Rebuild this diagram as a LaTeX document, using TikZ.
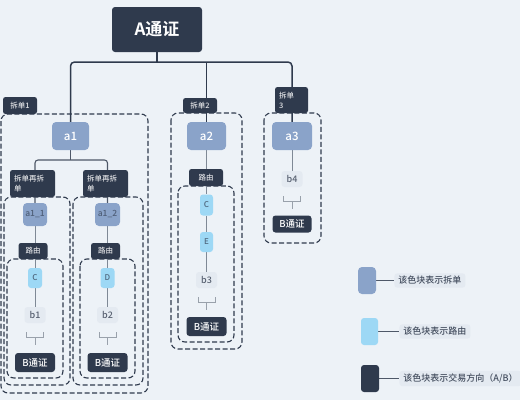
\documentclass[tikz,border=0pt]{standalone}
\usepackage{fontspec}
\newfontfamily\cjkfont{Noto Sans CJK SC}[UprightFont=* Medium, BoldFont=* Bold]
\usepackage{tikz}
\usetikzlibrary{positioning}
\usetikzlibrary{backgrounds}
\definecolor{pagebg}{HTML}{EDF2F7}
\definecolor{tradeink}{HTML}{2F3A4D}
\definecolor{splitblue}{HTML}{8AA3C9}
\definecolor{routeblue}{HTML}{9DD8F5}
\definecolor{tokenbg}{HTML}{E4EAF1}
\definecolor{linkgray}{HTML}{7F8996}
\newcommand{\mergemark}[1]{%
  \draw[bracket] ([shift={(-8.5,17)}]#1.center) -- ++(0,5) -- ++(17,0) -- ++(0,-5);
  \draw[bracket] ([shift={(0,22)}]#1.center) -- ++(0,8);}

\tikzset{
  box/.style={inner sep=0pt, rounded corners=3pt, font=\cjkfont\fontsize{9.5}{11}\selectfont},
  trade/.style={box, fill=tradeink, text=white},
  tag/.style={box, fill=tradeink, text=white!85!tradeink, rounded corners=2.5pt,
    font=\cjkfont\fontsize{7.5}{10}\selectfont},
  split/.style={box, fill=splitblue, text=white, rounded corners=4pt,
    font=\cjkfont\fontsize{11.5}{13}\selectfont},
  subsplit/.style={split, text=splitblue!35!tradeink, font=\cjkfont\fontsize{8.5}{10}\selectfont},
  route/.style={box, fill=routeblue, text=routeblue!30!tradeink, rounded corners=3pt,
    minimum width=13pt, minimum height=21pt, font=\cjkfont\fontsize{8}{10}\selectfont},
  token/.style={box, fill=tokenbg, text=tradeink!80, minimum width=21pt, minimum height=16pt,
    font=\cjkfont\fontsize{9}{11}\selectfont},
  keytext/.style={box, fill=tokenbg, text=tradeink!90, inner xsep=4pt, inner ysep=3pt,
    font=\cjkfont\fontsize{9}{11}\selectfont},
  group/.style={draw=tradeink, line width=1.1pt, dash pattern=on 5pt off 2.5pt, rounded corners=7pt},
  trunk/.style={draw=tradeink, line width=1.5pt},
  stem/.style={draw=tradeink!85, line width=1.1pt},
  link/.style={draw=linkgray, line width=0.8pt},
  bracket/.style={draw=linkgray!80, line width=0.7pt}
}

\begin{document}
\begin{tikzpicture}[x=1pt,y=-1pt]
\useasboundingbox (0,0) rectangle (520,400);
\begin{scope}[on background layer]
  \fill[pagebg] (0,0) rectangle (520,400);
  \draw[group] (1,114) rectangle (148,393);
  \draw[group] (4,197) rectangle (70,385);
  \draw[group] (73,197) rectangle (143,385);
  \draw[group] (7,259) rectangle (63,378);
  \draw[group] (80,259) rectangle (135,378);
  \draw[group] (171,113) rectangle (242,349);
  \draw[group] (178,186) rectangle (234,342);
  \draw[group] (264,113) rectangle (321,243);
\end{scope}

\node[trade, minimum width=90pt, minimum height=45pt,
  font=\cjkfont\bfseries\fontsize{17}{20}\selectfont] (a-root) at (157,29.5) {A通证};

\node[tag, minimum width=34pt, minimum height=17pt] (split-1) at (20,105.5) {拆单1};
\node[split, minimum width=37pt, minimum height=28pt] (a1) at (70.5,136) {a1};
\node[tag, minimum width=45pt, minimum height=27pt, align=left, text width=37pt]
  (split-1-1) at (32.5,183.5) {拆单再拆\\单};
\node[tag, minimum width=45pt, minimum height=27pt, align=left, text width=37pt]
  (split-1-2) at (105.5,183.5) {拆单再拆\\单};
\node[subsplit, minimum width=24pt, minimum height=23pt] (a1-1) at (35,214.5) {a1\_1};
\node[subsplit, minimum width=25pt, minimum height=23pt] (a1-2) at (107.5,214.5) {a1\_2};
\node[tag, minimum width=29pt, minimum height=16pt] (route-1) at (33,251) {路由};
\node[tag, minimum width=29pt, minimum height=16pt] (route-2) at (105.5,251) {路由};
\node[route, minimum width=14pt, minimum height=20pt] (c-1) at (35,278) {C};
\node[route, minimum width=14pt, minimum height=20pt] (d-1) at (107.5,278) {D};
\node[token] (b1) at (35,315) {b1};
\node[token] (b2) at (107.5,315) {b2};
\node[trade, minimum width=40pt, minimum height=19pt] (dir-1) at (35,362.5) {B通证};
\node[trade, minimum width=40pt, minimum height=19pt] (dir-2) at (107.5,362.5) {B通证};

\node[tag, minimum width=34pt, minimum height=15pt] (split-2) at (200,105.5) {拆单2};
\node[split, minimum width=39pt, minimum height=28pt] (a2) at (206.5,136) {a2};
\node[tag, minimum width=34pt, minimum height=17pt] (route-3) at (206,177.5) {路由};
\node[route] (c-2) at (206.5,205) {C};
\node[route, minimum height=20pt] (e-2) at (206.5,242) {E};
\node[token] (b3) at (206.5,280) {b3};
\node[trade, minimum width=40pt, minimum height=19pt] (dir-3) at (206.5,326.5) {B通证};

\node[tag, minimum width=33pt, minimum height=26pt, align=left, text width=25pt]
  (split-3) at (291.5,100) {拆单\\3};
\node[split, minimum width=40pt, minimum height=28pt] (a3) at (292,136) {a3};
\node[token] (b4) at (292,179) {b4};
\node[trade, minimum width=39pt, minimum height=17pt] (dir-4) at (292,224) {B通证};

\node[split, minimum width=18pt, minimum height=27pt] (key-split) at (367,280.5) {};
\node[keytext, right=18pt of key-split] (key-split-text) {该色块表示拆单};
\node[route, minimum width=17pt, minimum height=27pt] (key-route) at (369.5,331.5) {};
\node[keytext, right=21pt of key-route] (key-route-text) {该色块表示路由};
\node[trade, minimum width=18pt, minimum height=27pt] (key-dir) at (370,378.5) {};
\node[keytext, right=20pt of key-dir] (key-dir-text) {该色块表示交易方向（A/B）};

\begin{scope}[on background layer]
  \coordinate (fork-top) at (157,62);
  \coordinate (fork-a1) at (70.5,160);
  \draw[trunk] (a-root.south) -- (fork-top);
  \draw[trunk, rounded corners=4pt] (a1.north) |- (fork-top) -| (a3.north);
  \draw[trunk] (a2.north) -- (a2.north |- fork-top);
  \draw[stem] (a1.south) -- (fork-a1);
  \draw[stem, rounded corners=3pt] (a1-1.north) |- (fork-a1) -| (a1-2.north);
  \draw[link] (a1-1.south) -- (c-1.north);
  \draw[link] (c-1.south) -- (b1.north);
  \draw[link] (a1-2.south) -- (d-1.north);
  \draw[link] (d-1.south) -- (b2.north);
  \draw[link] (a2.south) -- (c-2.north);
  \draw[link] (c-2.south) -- (e-2.north);
  \draw[link] (e-2.south) -- (b3.north);
  \draw[link] (a3.south) -- (b4.north);
  \draw[stem] (key-split) -- (key-split-text);
  \draw[stem] (key-route) -- (key-route-text);
  \draw[stem] (key-dir) -- (key-dir-text);
\end{scope}
\mergemark{b1}
\mergemark{b2}
\mergemark{b3}
\mergemark{b4}
\end{tikzpicture}
\end{document}
